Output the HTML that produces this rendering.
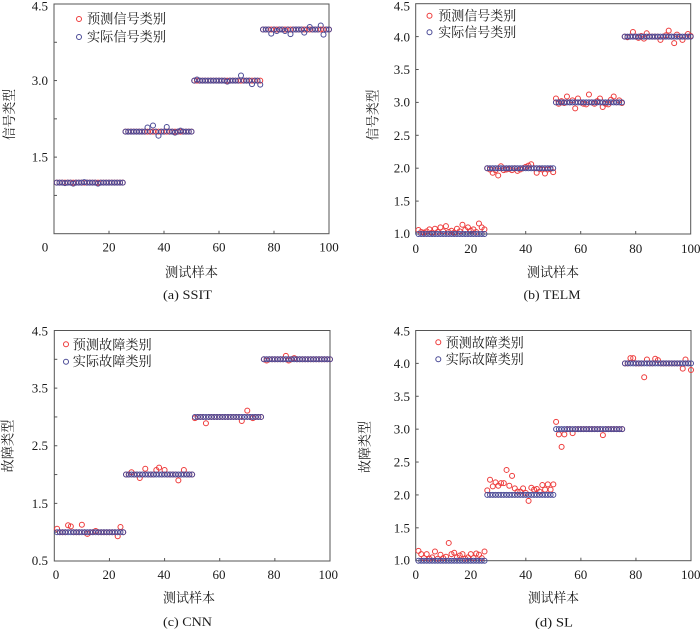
<!DOCTYPE html>
<html><head><meta charset="utf-8"><style>
html,body{margin:0;padding:0;background:#fff;}
svg{display:block;}
text{font-family:"Liberation Serif","Noto Serif CJK SC",serif;fill:#1a1a1a;}
.n{font-size:13px;}
.c{font-size:13.5px;}
</style></head><body>
<svg id="s" width="700" height="629" xmlns="http://www.w3.org/2000/svg">
<g fill="none" stroke="#555" stroke-width="1">
<rect x="54" y="4" width="275" height="229.7"/>
<rect x="415.7" y="3.7" width="275" height="230.3"/>
<rect x="54.3" y="330.5" width="275.7" height="230.5"/>
<rect x="415.7" y="330.5" width="275.3" height="230.2"/>
</g>
<g id="ticks" stroke="#555" stroke-width="1"></g>

<!-- (a) -->
<g class="n" text-anchor="end">
<text x="48" y="10.5">4.5</text>
<text x="48" y="85">3.0</text>
<text x="48" y="161.5">1.5</text>
</g>
<g class="n" text-anchor="middle">
<text x="45" y="251.7">0</text>
<text x="109" y="251.7">20</text>
<text x="164" y="251.7">40</text>
<text x="219" y="251.7">60</text>
<text x="274" y="251.7">80</text>
<text x="329" y="251.7">100</text>
</g>
<text class="c" x="191.5" y="277" text-anchor="middle" textLength="53" lengthAdjust="spacingAndGlyphs">测试样本</text>
<text class="n" x="187.5" y="299" text-anchor="middle" textLength="49" lengthAdjust="spacingAndGlyphs">(a) SSIT</text>
<text class="c" transform="translate(9.5,114.5) rotate(-90)" text-anchor="middle" dominant-baseline="central" textLength="51" lengthAdjust="spacingAndGlyphs">信号类型</text>
<text class="c" x="87" y="23.5" textLength="79" lengthAdjust="spacingAndGlyphs">预测信号类别</text>
<text class="c" x="87" y="41.5" textLength="79" lengthAdjust="spacingAndGlyphs">实际信号类别</text>

<!-- (b) -->
<g class="n" text-anchor="end">
<text x="410" y="10.5">4.5</text>
<text x="410" y="41.3">4.0</text>
<text x="410" y="74">3.5</text>
<text x="410" y="106.7">3.0</text>
<text x="410" y="139.8">2.5</text>
<text x="410" y="172.7">2.0</text>
<text x="410" y="205.6">1.5</text>
<text x="410" y="238">1.0</text>
</g>
<g class="n" text-anchor="middle">
<text x="415.7" y="253">0</text>
<text x="470.7" y="253">20</text>
<text x="525.7" y="253">40</text>
<text x="580.7" y="253">60</text>
<text x="635.7" y="253">80</text>
<text x="690.7" y="253">100</text>
</g>
<text class="c" x="553" y="277" text-anchor="middle" textLength="52" lengthAdjust="spacingAndGlyphs">测试样本</text>
<text class="n" x="552" y="299" text-anchor="middle" textLength="57" lengthAdjust="spacingAndGlyphs">(b) TELM</text>
<text class="c" transform="translate(373,115) rotate(-90)" text-anchor="middle" dominant-baseline="central" textLength="51" lengthAdjust="spacingAndGlyphs">信号类型</text>
<text class="c" x="438.3" y="20.5" textLength="78" lengthAdjust="spacingAndGlyphs">预测信号类别</text>
<text class="c" x="438.3" y="37" textLength="78" lengthAdjust="spacingAndGlyphs">实际信号类别</text>

<!-- (c) -->
<g class="n" text-anchor="end">
<text x="48" y="335.5">4.5</text>
<text x="48" y="392.6">3.5</text>
<text x="48" y="450.2">2.5</text>
<text x="48" y="507.8">1.5</text>
<text x="48" y="565">0.5</text>
</g>
<g class="n" text-anchor="middle">
<text x="56" y="579">0</text>
<text x="109" y="579">20</text>
<text x="164" y="579">40</text>
<text x="219" y="579">60</text>
<text x="274" y="579">80</text>
<text x="328.3" y="579">100</text>
</g>
<text class="c" x="189" y="602.5" text-anchor="middle" textLength="52" lengthAdjust="spacingAndGlyphs">测试样本</text>
<text class="n" x="187.5" y="626" text-anchor="middle" textLength="49" lengthAdjust="spacingAndGlyphs">(c) CNN</text>
<text class="c" transform="translate(8,446) rotate(-90)" text-anchor="middle" dominant-baseline="central" textLength="53" lengthAdjust="spacingAndGlyphs">故障类型</text>
<text class="c" x="72.7" y="349.5" textLength="79" lengthAdjust="spacingAndGlyphs">预测故障类别</text>
<text class="c" x="72.7" y="366" textLength="79" lengthAdjust="spacingAndGlyphs">实际故障类别</text>

<!-- (d) -->
<g class="n" text-anchor="end">
<text x="410" y="335.5">4.5</text>
<text x="410" y="368">4.0</text>
<text x="410" y="400.8">3.5</text>
<text x="410" y="433.7">3.0</text>
<text x="410" y="466.5">2.5</text>
<text x="410" y="499.4">2.0</text>
<text x="410" y="532.3">1.5</text>
<text x="410" y="564.7">1.0</text>
</g>
<g class="n" text-anchor="middle">
<text x="415.7" y="579">0</text>
<text x="470.7" y="579">20</text>
<text x="525.7" y="579">40</text>
<text x="580.7" y="579">60</text>
<text x="635.7" y="579">80</text>
<text x="690.7" y="579">100</text>
</g>
<text class="c" x="553.5" y="602.5" text-anchor="middle" textLength="51" lengthAdjust="spacingAndGlyphs">测试样本</text>
<text class="n" x="554" y="626.5" text-anchor="middle" textLength="38" lengthAdjust="spacingAndGlyphs">(d) SL</text>
<text class="c" transform="translate(365,447) rotate(-90)" text-anchor="middle" dominant-baseline="central" textLength="52" lengthAdjust="spacingAndGlyphs">故障类型</text>
<text class="c" x="445.7" y="347.5" textLength="78" lengthAdjust="spacingAndGlyphs">预测故障类别</text>
<text class="c" x="445.7" y="364" textLength="78" lengthAdjust="spacingAndGlyphs">实际故障类别</text>

<g id="pts"></g>
</svg>
<script>
(function(){
var NS="http://www.w3.org/2000/svg";
var red="#ee3b3b", blue="#4a4a96";
var R="2.5", SW="1";
var P={
 a:{x0:54,x1:329,yb:233.7,vb:0,yt:4,vt:4.5},
 b:{x0:415.7,x1:690.7,yb:234,vb:1,yt:3.7,vt:4.5},
 c:{x0:54.3,x1:330,yb:561,vb:0.5,yt:330.5,vt:4.5},
 d:{x0:415.7,x1:691,yb:560.7,vb:1,yt:330.5,vt:4.5}
};
function X(p,i){return p.x0+(p.x1-p.x0)*i/100;}
function Y(p,v){return p.yb+(p.yt-p.yb)*(v-p.vb)/(p.vt-p.vb);}
var tg=document.getElementById("ticks"), pg=document.getElementById("pts");
function line(x1,y1,x2,y2){var l=document.createElementNS(NS,"line");l.setAttribute("x1",x1);l.setAttribute("y1",y1);l.setAttribute("x2",x2);l.setAttribute("y2",y2);tg.appendChild(l);}
function yt(p,vals){vals.forEach(function(v){var y=Y(p,v);line(p.x0,y,p.x0+3,y);});}
function xt(p){[20,40,60,80].forEach(function(i){var x=X(p,i);line(x,p.yb,x,p.yb-3);});}
yt(P.a,[0.75,1.5,2.25,3,3.75]);xt(P.a);
yt(P.b,[1.5,2,2.5,3,3.5,4]);xt(P.b);
yt(P.c,[1,1.5,2,2.5,3,3.5,4]);xt(P.c);
yt(P.d,[1.5,2,2.5,3,3.5,4]);xt(P.d);
function cls(i){return Math.ceil(i/25);}
function series(map){var out=[];for(var i=1;i<=100;i++){var v=cls(i);if(map&&map[i]!==undefined)v=map[i];out.push(v);}return out;}
function circ(x,y,col){var c=document.createElementNS(NS,"circle");c.setAttribute("cx",x);c.setAttribute("cy",y);c.setAttribute("r",R);c.setAttribute("fill","none");c.setAttribute("stroke",col);c.setAttribute("stroke-width",SW);pg.appendChild(c);}
function draw(p,vals,col){for(var i=1;i<=100;i++){circ(X(p,i).toFixed(2),Y(p,vals[i-1]).toFixed(2),col);}}
function fromList(start,list,o){o=o||{};for(var k=0;k<list.length;k++)o[start+k]=list[k];return o;}
// (a)
var aBlue={4:0.99,7:0.98,11:1.01,16:0.98,34:2.08,36:2.12,38:1.92,41:2.09,44:1.98,46:2.02,52:3.02,63:2.98,68:3.1,72:2.93,75:2.92,79:3.92,81:3.97,84:3.97,86:3.91,91:3.94,93:4.05,97:4.08,98:3.9};
draw(P.a,series(null),red);
draw(P.a,series(aBlue),blue);
// (b)
var bRed={};
fromList(1,[1.06,1.03,1.02,1.04,1.07,1.02,1.08,1.03,1.1,1.04,1.12,1.03,1.05,1.02,1.08,1.04,1.14,1.06,1.1,1.05,1.07,1.03,1.16,1.1,1.07],bRed);
fromList(26,[2.0,1.98,1.93,1.97,1.89,2.03,1.97,1.98,1.99,1.97,2.0,1.96,1.98,2.0,2.02,2.04,2.06,2.0,1.93,1.99,1.98,1.92,1.98,1.99,1.94],bRed);
fromList(51,[3.06,2.98,3.02,2.99,3.09,3.0,3.03,2.91,3.06,3.0,2.98,2.97,3.12,3.0,2.98,3.02,3.06,2.93,2.98,2.97,3.04,3.09,3.0,3.03,2.99],bRed);
fromList(76,[4.0,3.99,4.0,4.07,4.0,3.98,4.01,3.97,4.05,4.0,4.0,4.0,4.0,3.95,4.0,4.02,4.09,4.0,3.9,4.03,4.0,3.95,4.0,4.04,4.01],bRed);
draw(P.b,series(bRed),red);
draw(P.b,series(null),blue);
// (c)
var cRed={1:1.06,5:1.12,6:1.1,10:1.13,12:0.97,15:1.02,23:0.93,24:1.09,28:2.04,31:1.94,33:2.1,37:2.08,38:2.12,40:2.08,45:1.9,47:2.08,51:2.98,55:2.89,68:2.93,70:3.11,72:2.98,77:3.98,84:4.06,85:3.98,87:4.02};
draw(P.c,series(cRed),red);
draw(P.c,series(null),blue);
// (d)
var dRed={};
fromList(1,[1.15,1.1,1.04,1.1,1.03,1.05,1.14,1.03,1.09,1.04,1.06,1.27,1.1,1.12,1.05,1.08,1.1,1.03,1.05,1.1,1.04,1.11,1.09,1.04,1.14],dRed);
fromList(26,[2.07,2.23,2.13,2.19,2.14,2.18,2.18,2.38,2.14,2.29,2.1,2.05,2.05,2.1,2.03,1.91,2.11,2.08,2.09,2.05,2.15,2.08,2.16,2.08,2.16],dRed);
var dm={51:3.11,52:2.92,53:2.73,54:2.92,57:2.94,68:2.91,78:4.08,79:4.08,83:3.79,84:4.06,87:4.07,88:4.05,97:3.92,98:4.06,100:3.9};
for(var k in dm)dRed[k]=dm[k];
draw(P.d,series(dRed),red);
draw(P.d,series(null),blue);
// legend markers
circ(79,19,red);circ(79,37,blue);
circ(429.5,15.7,red);circ(429.5,32.3,blue);
circ(66,344.3,red);circ(66,361.7,blue);
circ(438.3,342.3,red);circ(438.3,359.3,blue);
})();
</script>
</body></html>
